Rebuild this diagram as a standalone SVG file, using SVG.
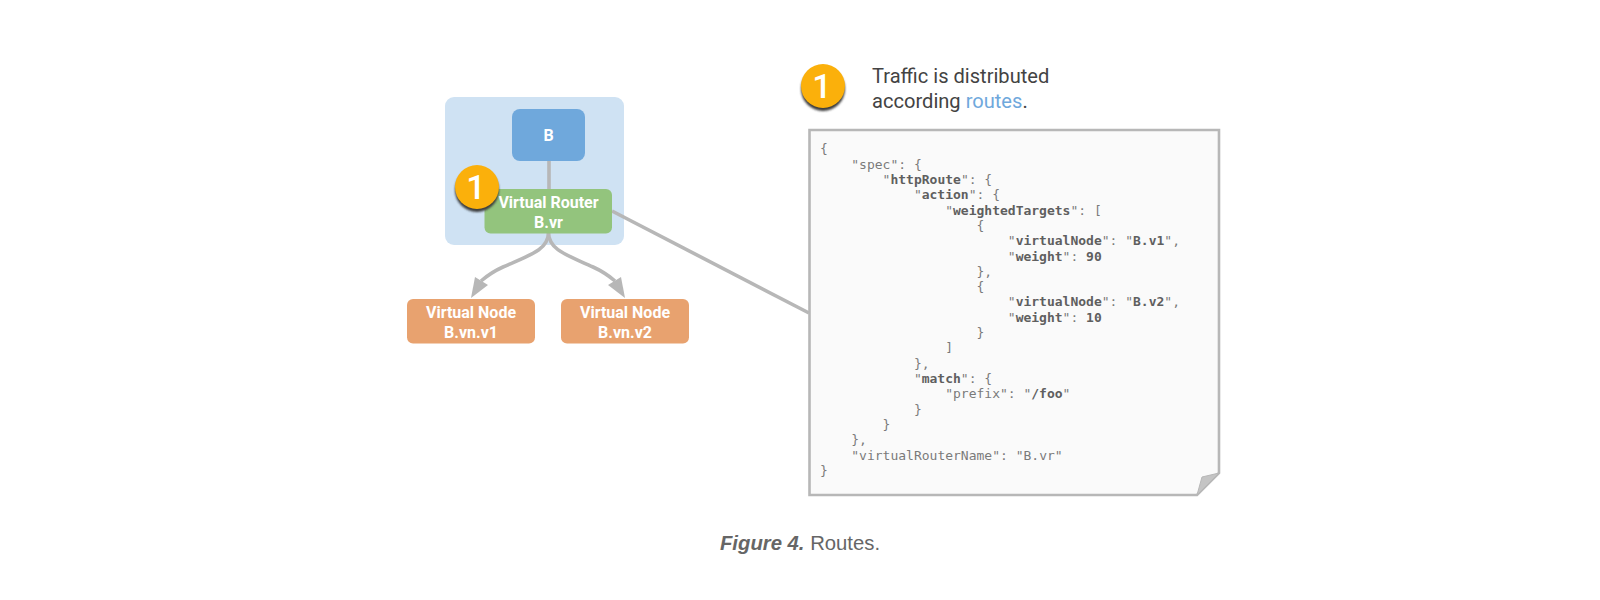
<svg xmlns="http://www.w3.org/2000/svg" width="1600" height="600" viewBox="0 0 1600 600">
<style>
.lbl{font-family:Roboto,"Liberation Sans",sans-serif;font-weight:700;font-size:16px;fill:#fff;text-anchor:middle}
.badge{fill:#fbb00b}
.num{font-family:Roboto,"Liberation Sans",sans-serif;font-weight:500;font-size:34px;fill:#fff;text-anchor:middle}
.conn{fill:none;stroke:#b7b7b7;stroke-width:3.6}
.code{font-family:"DejaVu Sans Mono","Liberation Mono",monospace;font-size:13px;fill:#7a7a7a}
.code tspan{font-weight:700;fill:#5f5f5f}
.msg{font-family:Roboto,"Liberation Sans",sans-serif;font-size:20.1px;fill:#434343}
</style>
<defs>
<filter id="sh" x="-30%" y="-30%" width="160%" height="170%"><feGaussianBlur stdDeviation="1.2"/></filter>
</defs>
<rect id="mesh-bg" x="445" y="97" width="179" height="148" rx="9" fill="#cfe2f3"/>
<g id="connectors">
<path class="conn" d="M549 161V189"/>
<path class="conn" d="M612 211L809 313"/>
<path class="conn" d="M548.500 233C548 250 530 255 503 267C494 271 488 275 481 281" />
<path class="conn" d="M548.500 233C549 250 567 255 593 267C602 271 608 275 615 281" />
<path d="M471 298L475 277L488 285Z" fill="#b7b7b7"/>
<path d="M625 298L621 277L608 285Z" fill="#b7b7b7"/>
</g>
<g id="node-b"><rect x="512" y="109" width="73" height="52" rx="8" fill="#6fa8dc"/><text class="lbl" x="548.500" y="141">B</text></g>
<g id="node-router"><rect x="484.500" y="189" width="127.500" height="44.500" rx="6" fill="#93c47d"/><text class="lbl" x="548.500" y="208">Virtual Router</text><text class="lbl" x="548.500" y="228">B.vr</text></g>
<g id="node-v1"><rect x="407" y="299" width="128" height="44.500" rx="6" fill="#e8a26f"/><text class="lbl" x="471" y="318">Virtual Node</text><text class="lbl" x="471" y="338">B.vn.v1</text></g>
<g id="node-v2"><rect x="561" y="299" width="128" height="44.500" rx="6" fill="#e8a26f"/><text class="lbl" x="625" y="318">Virtual Node</text><text class="lbl" x="625" y="338">B.vn.v2</text></g>
<g id="badge-a"><circle cx="477" cy="190" r="22" fill="#3c3c3c" filter="url(#sh)"/><circle class="badge" cx="477" cy="187" r="22"/><text class="num" x="476" y="199">1</text></g>
<g id="badge-b"><circle cx="823" cy="89" r="22" fill="#3c3c3c" filter="url(#sh)"/><circle class="badge" cx="823" cy="86" r="22"/><text class="num" x="822" y="98">1</text></g>
<g id="message"><text class="msg" x="872" y="83">Traffic is distributed</text><text class="msg" x="872" y="108">according <tspan fill="#6fa8dc">routes</tspan>.</text></g>
<g id="doc">
<path d="M809.500 130H1219V473L1197 495H809.500Z" fill="#fafafa" stroke="#b7b7b7" stroke-width="2.6"/>
<path d="M1197 495L1202 477L1219 473Z" fill="#c4c4c4" stroke="#b7b7b7" stroke-width="1"/>
<text class="code" x="820" y="153">{</text>
<text class="code" x="851.300" y="168.800">"spec": {</text>
<text class="code" x="882.600" y="184">"<tspan>httpRoute</tspan>": {</text>
<text class="code" x="913.900" y="199.300">"<tspan>action</tspan>": {</text>
<text class="code" x="945.200" y="214.600">"<tspan>weightedTargets</tspan>": [</text>
<text class="code" x="976.500" y="229.900">{</text>
<text class="code" x="1007.800" y="245.200">"<tspan>virtualNode</tspan>": "<tspan>B.v1</tspan>",</text>
<text class="code" x="1007.800" y="260.500">"<tspan>weight</tspan>": <tspan>90</tspan></text>
<text class="code" x="976.500" y="275.800">},</text>
<text class="code" x="976.500" y="291.100">{</text>
<text class="code" x="1007.800" y="306.400">"<tspan>virtualNode</tspan>": "<tspan>B.v2</tspan>",</text>
<text class="code" x="1007.800" y="321.700">"<tspan>weight</tspan>": <tspan>10</tspan></text>
<text class="code" x="976.500" y="337">}</text>
<text class="code" x="945.200" y="352.300">]</text>
<text class="code" x="913.900" y="367.700">},</text>
<text class="code" x="913.900" y="383">"<tspan>match</tspan>": {</text>
<text class="code" x="945.200" y="398.300">"prefix": "<tspan>/foo</tspan>"</text>
<text class="code" x="913.900" y="413.700">}</text>
<text class="code" x="882.600" y="429">}</text>
<text class="code" x="851.300" y="444.300">},</text>
<text class="code" x="851.300" y="459.700">"virtualRouterName": "B.vr"</text>
<text class="code" x="820" y="475">}</text>
</g>
<text id="caption" x="800" y="550" text-anchor="middle" font-family="'Liberation Sans',Arial,sans-serif" font-size="20.300" fill="#666"><tspan font-weight="700" font-style="italic">Figure 4.</tspan> Routes.</text>
</svg>
